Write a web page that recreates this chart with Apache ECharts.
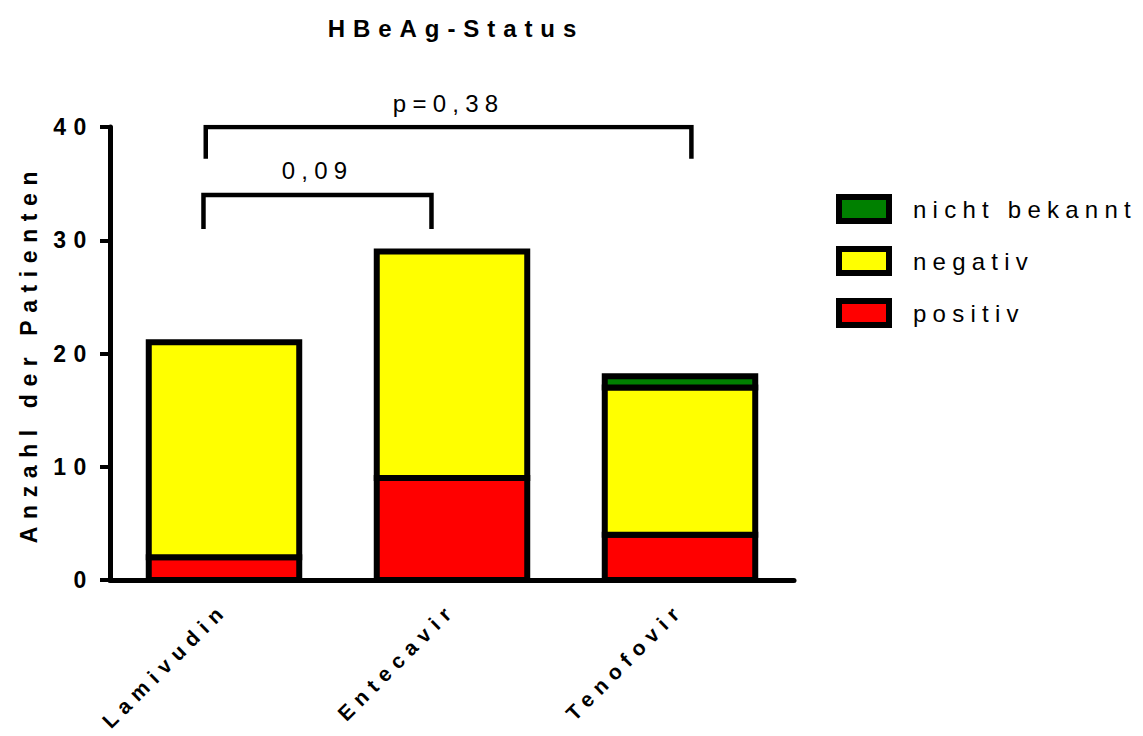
<!DOCTYPE html>
<html>
<head>
<meta charset="utf-8">
<title>HBeAg-Status</title>
<script src="https://cdn.jsdelivr.net/npm/echarts@6/dist/echarts.min.js"></script>
<style>
  html, body { margin: 0; padding: 0; background: #fff; }
  #chart { width: 1143px; height: 736px; }
  /* wide, Prism-like tracking on the chart texts */
  #chart text { letter-spacing: 0.26em; }
  #chart text[style*="bold"] { letter-spacing: 0.33em; }
</style>
</head>
<body>
<div id="chart"></div>
<script>
// ---- data ----
const categories = ['Lamivudin', 'Entecavir', 'Tenofovir'];
const positiv = [2, 9, 4];
const negativ = [19, 20, 13];
const nichtBekannt = [0, 0, 1];
const yTicks = [0, 10, 20, 30, 40];

// stacking order from the bottom up, and the legend order (top down)
const statusNames = ['positiv', 'negativ', 'nicht bekannt'];
const statusValues = [positiv, negativ, nichtBekannt];
const statusColors = ['#ff0000', '#ffff00', '#008000'];
const legendOrder = ['nicht bekannt', 'negativ', 'positiv'];

// significance brackets (x in category-band units, y in patients)
const bracketLabels = ['0,09', 'p=0,38'];
const bracketLeft = [0.41, 0.42];
const bracketRight = [1.41, 2.55];
const bracketTop = [34, 40];
const bracketFoot = [31, 37.2];

// ---- chart ----
const FONT = "'Liberation Sans', Arial, sans-serif";
const BAR_FRACTION = 0.66;
const BORDER = 6;
const chart = echarts.init(document.getElementById('chart'), null, { renderer: 'svg' });

// stacked segments: each rect spans [base, base + value]; the outline is
// centred on the segment edges so neighbouring segments share one divider
function renderSegment(params, api) {
  const ci = api.value(0);
  const lo = api.coord([ci, api.value(1)]);
  const hi = api.coord([ci, api.value(2)]);
  const bw = api.size([1, 0])[0] * BAR_FRACTION;
  return {
    type: 'rect',
    shape: { x: lo[0] - bw / 2, y: hi[1], width: bw, height: lo[1] - hi[1] },
    style: { fill: api.visual('color'), stroke: '#000', lineWidth: BORDER, lineJoin: 'miter' }
  };
}

const segmentSeries = statusNames.map((name, si) => {
  const data = [];
  categories.forEach((c, ci) => {
    const v = statusValues[si][ci];
    if (!v) return;
    let base = 0;
    for (let k = 0; k < si; k++) base += statusValues[k][ci];
    data.push([ci, base, base + v]);
  });
  return {
    type: 'custom',
    name: name,
    xAxisIndex: 0,
    yAxisIndex: 0,
    silent: true,
    itemStyle: { color: statusColors[si], borderColor: '#000', borderWidth: BORDER },
    encode: { x: 0, y: [1, 2] },
    renderItem: renderSegment,
    data: data,
    z: 2
  };
});

const bracketSeries = bracketLabels.map((_, i) => ({
  type: 'line',
  xAxisIndex: 1,
  yAxisIndex: 0,
  symbol: 'none',
  silent: true,
  lineStyle: { color: '#000', width: 4.5, cap: 'butt', join: 'miter' },
  data: [
    [bracketLeft[i], bracketFoot[i]],
    [bracketLeft[i], bracketTop[i]],
    [bracketRight[i], bracketTop[i]],
    [bracketRight[i], bracketFoot[i]]
  ],
  z: 5
}));

const bracketText = {
  type: 'scatter',
  xAxisIndex: 1,
  yAxisIndex: 0,
  symbolSize: 0,
  silent: true,
  itemStyle: { opacity: 1 },
  data: bracketLabels.map((t, i) => ({
    value: [(bracketLeft[i] + bracketRight[i]) / 2, bracketTop[i]],
    name: t
  })),
  label: {
    show: true,
    position: 'top',
    distance: 12,
    formatter: (p) => p.name,
    color: '#000',
    fontFamily: FONT,
    fontSize: 24
  }
};

chart.setOption({
  animation: false,
  backgroundColor: '#fff',
  title: {
    text: 'HBeAg-Status',
    left: 451,
    top: 11,
    textAlign: 'center',
    textStyle: { fontFamily: FONT, fontWeight: 'bold', fontSize: 24, color: '#000' }
  },
  legend: {
    orient: 'vertical',
    left: 831,
    top: 189,
    icon: 'rect',
    itemWidth: 50,
    itemHeight: 24,
    itemGap: 22,
    selectedMode: false,
    data: legendOrder,
    itemStyle: { borderColor: '#000', borderWidth: BORDER },
    textStyle: { fontFamily: FONT, fontSize: 24, color: '#000', padding: [0, 0, 0, 19] }
  },
  grid: { left: 110, right: 349, top: 127, bottom: 156, outerBoundsMode: 'none' },
  xAxis: [
    {
      type: 'category',
      data: categories,
      axisLine: { lineStyle: { color: '#000', width: 5 } },
      axisTick: { alignWithLabel: true, length: 11, lineStyle: { color: '#000', width: 4 } },
      axisLabel: {
        rotate: 45,
        interval: 0,
        margin: 26,
        color: '#000',
        fontFamily: FONT,
        fontWeight: 'bold',
        fontSize: 21
      },
      z: 3
    },
    { type: 'value', min: 0, max: 3, show: false }
  ],
  yAxis: {
    type: 'value',
    min: yTicks[0],
    max: yTicks[yTicks.length - 1],
    interval: yTicks[1] - yTicks[0],
    name: 'Anzahl der Patienten',
    nameLocation: 'middle',
    nameGap: 70,
    nameTextStyle: { fontFamily: FONT, fontWeight: 'bold', fontSize: 23, color: '#000' },
    axisLine: { show: true, lineStyle: { color: '#000', width: 5 } },
    axisTick: { show: true, length: 10, lineStyle: { color: '#000', width: 4 } },
    splitLine: { show: false },
    axisLabel: { margin: 16, color: '#000', fontFamily: FONT, fontWeight: 'bold', fontSize: 23 },
    z: 3
  },
  series: [
    ...segmentSeries,
    ...bracketSeries,
    bracketText
  ]
});
</script>
</body>
</html>
